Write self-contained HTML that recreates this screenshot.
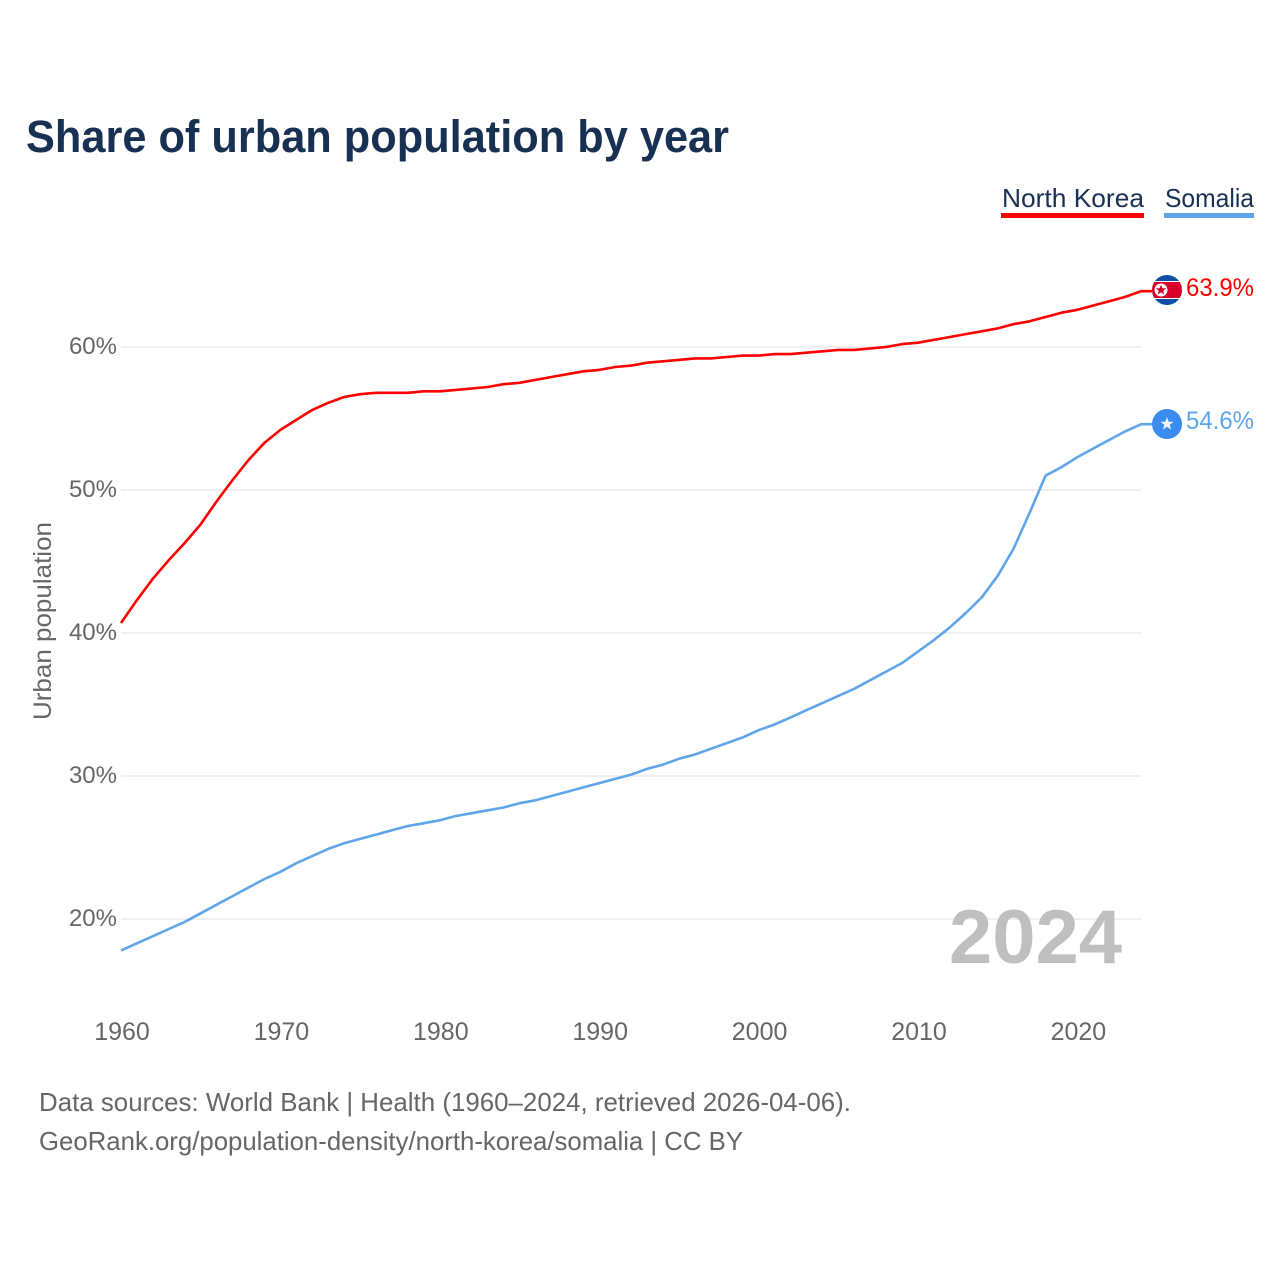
<!DOCTYPE html>
<html lang="en">
<head>
<meta charset="utf-8">
<title>Share of urban population by year</title>
<style>
html,body{margin:0;padding:0;background:#fff;width:1280px;height:1280px;overflow:hidden}
svg{display:block}
text{font-family:"Liberation Sans",sans-serif}
</style>
</head>
<body>
<svg id="chart" xmlns="http://www.w3.org/2000/svg" width="1280" height="1280" viewBox="0 0 1280 1280">
  <rect x="0" y="0" width="1280" height="1280" fill="#fff"/>
  <text x="26" y="152" font-size="45" font-weight="700" fill="#183153" textLength="703" lengthAdjust="spacingAndGlyphs">Share of urban population by year</text>

  <g>
    <text x="1002" y="207" font-size="26" fill="#183153" textLength="142" lengthAdjust="spacingAndGlyphs">North Korea</text>
    <rect x="1001" y="213" width="143" height="5" fill="#ff0000"/>
  </g>
  <g>
    <text x="1165" y="207" font-size="26" fill="#183153" textLength="89" lengthAdjust="spacingAndGlyphs">Somalia</text>
    <rect x="1164" y="213" width="90" height="5" fill="#60a5ea"/>
  </g>

  <g id="grid"></g>
  <g id="yticks"></g>
  <g id="xticks"></g>

  <text transform="translate(51,720) rotate(-90)" x="0" y="0" font-size="25" fill="#666" textLength="198" lengthAdjust="spacingAndGlyphs">Urban population</text>

  <text x="949" y="963" font-size="76" font-weight="700" fill="#bfbfbf" textLength="173" lengthAdjust="spacingAndGlyphs">2024</text>

  <g id="series"></g>

  <g>
    <clipPath id="nk-clip"><circle cx="1167" cy="290" r="15"/></clipPath>
    <g clip-path="url(#nk-clip)">
      <rect x="1152" y="275" width="30" height="30" fill="#0f4fa8"/>
      <rect x="1152" y="281" width="30" height="18" fill="#fff"/>
      <rect x="1152" y="282" width="30" height="16" fill="#d8002b"/>
      <circle cx="1161" cy="290" r="6.5" fill="#fff"/>
      <polygon points="1161,284.6 1162.4,288.2 1166.2,288.4 1163.2,290.8 1164.2,294.5 1161,292.4 1157.8,294.5 1158.8,290.8 1155.8,288.4 1159.6,288.2" fill="#d8002b"/>
    </g>
  </g>
  <text x="1186" y="296" font-size="25" fill="#ff0000" textLength="68" lengthAdjust="spacingAndGlyphs">63.9%</text>

  <g>
    <circle cx="1167" cy="424" r="15" fill="#3a8cf0"/>
    <polygon points="1167,417 1168.7,421.7 1173.7,421.8 1169.7,424.8 1171.1,429.6 1167,426.8 1162.9,429.6 1164.3,424.8 1160.3,421.8 1165.3,421.7" fill="#f2f5fa"/>
  </g>
  <text x="1186" y="429" font-size="25" fill="#60a5ea" textLength="68" lengthAdjust="spacingAndGlyphs">54.6%</text>

  <text x="39" y="1111" font-size="26" fill="#666" textLength="812" lengthAdjust="spacingAndGlyphs">Data sources: World Bank | Health (1960–2024, retrieved 2026-04-06).</text>
  <text x="39" y="1150" font-size="26" fill="#666" textLength="704" lengthAdjust="spacingAndGlyphs">GeoRank.org/population-density/north-korea/somalia | CC BY</text>
</svg>
<script>
const years = [1960,1961,1962,1963,1964,1965,1966,1967,1968,1969,1970,1971,1972,1973,1974,1975,1976,1977,1978,1979,1980,1981,1982,1983,1984,1985,1986,1987,1988,1989,1990,1991,1992,1993,1994,1995,1996,1997,1998,1999,2000,2001,2002,2003,2004,2005,2006,2007,2008,2009,2010,2011,2012,2013,2014,2015,2016,2017,2018,2019,2020,2021,2022,2023,2024];
const northKorea = [40.7,42.3,43.8,45.1,46.3,47.6,49.2,50.7,52.1,53.3,54.2,54.9,55.6,56.1,56.5,56.7,56.8,56.8,56.8,56.9,56.9,57.0,57.1,57.2,57.4,57.5,57.7,57.9,58.1,58.3,58.4,58.6,58.7,58.9,59.0,59.1,59.2,59.2,59.3,59.4,59.4,59.5,59.5,59.6,59.7,59.8,59.8,59.9,60.0,60.2,60.3,60.5,60.7,60.9,61.1,61.3,61.6,61.8,62.1,62.4,62.6,62.9,63.2,63.5,63.9];
const somalia = [17.8,18.3,18.8,19.3,19.8,20.4,21.0,21.6,22.2,22.8,23.3,23.9,24.4,24.9,25.3,25.6,25.9,26.2,26.5,26.7,26.9,27.2,27.4,27.6,27.8,28.1,28.3,28.6,28.9,29.2,29.5,29.8,30.1,30.5,30.8,31.2,31.5,31.9,32.3,32.7,33.2,33.6,34.1,34.6,35.1,35.6,36.1,36.7,37.3,37.9,38.7,39.5,40.4,41.4,42.5,44.0,45.9,48.4,51.0,51.6,52.3,52.9,53.5,54.1,54.6];
const yTickValues = [20,30,40,50,60];
const xTickValues = [1960,1970,1980,1990,2000,2010,2020];

const NS = 'http://www.w3.org/2000/svg';
function xScale(year) { return 121 + (year - 1960) * 15.94; }
function yScale(pct) { return 919 - (pct - 20) * 14.3; }

const gridGroup = document.getElementById('grid');
const yGroup = document.getElementById('yticks');
const xGroup = document.getElementById('xticks');
const seriesGroup = document.getElementById('series');

yTickValues.forEach(function (v) {
  const line = document.createElementNS(NS, 'line');
  
  
  line.setAttribute('x1', 121);
  line.setAttribute('x2', 1141);
  line.setAttribute('y1', yScale(v));
  line.setAttribute('y2', yScale(v));
  line.setAttribute('stroke', '#efefef');
  line.setAttribute('stroke-width', 2);
  gridGroup.appendChild(line);

  const label = document.createElementNS(NS, 'text');
  
  
  label.setAttribute('x', 117);
  label.setAttribute('y', yScale(v) + 7);
  label.setAttribute('text-anchor', 'end');
  label.setAttribute('font-size', 24);
  label.setAttribute('fill', '#666');
  label.textContent = v + '%';
  yGroup.appendChild(label);
});

xTickValues.forEach(function (v) {
  const label = document.createElementNS(NS, 'text');
  
  
  label.setAttribute('x', xScale(v) + 1);
  label.setAttribute('y', 1040);
  label.setAttribute('text-anchor', 'middle');
  label.setAttribute('font-size', 25);
  label.setAttribute('fill', '#666');
  label.textContent = v;
  xGroup.appendChild(label);
});

function drawLine(values, color, name) {
  const pts = values.map(function (v, i) { return xScale(years[i]).toFixed(1) + ',' + yScale(v).toFixed(1); });
  const last = values[values.length - 1];
  pts.push((xScale(years[years.length - 1]) + 11).toFixed(1) + ',' + yScale(last).toFixed(1));
  const p = document.createElementNS(NS, 'polyline');
  
  
  p.setAttribute('points', pts.join(' '));
  p.setAttribute('fill', 'none');
  p.setAttribute('stroke', color);
  p.setAttribute('stroke-width', 2.6);
  p.setAttribute('stroke-linejoin', 'round');
  seriesGroup.appendChild(p);
}
drawLine(northKorea, '#ff0000', 'line-north-korea');
drawLine(somalia, '#60a5ea', 'line-somalia');
</script>
</body>
</html>
